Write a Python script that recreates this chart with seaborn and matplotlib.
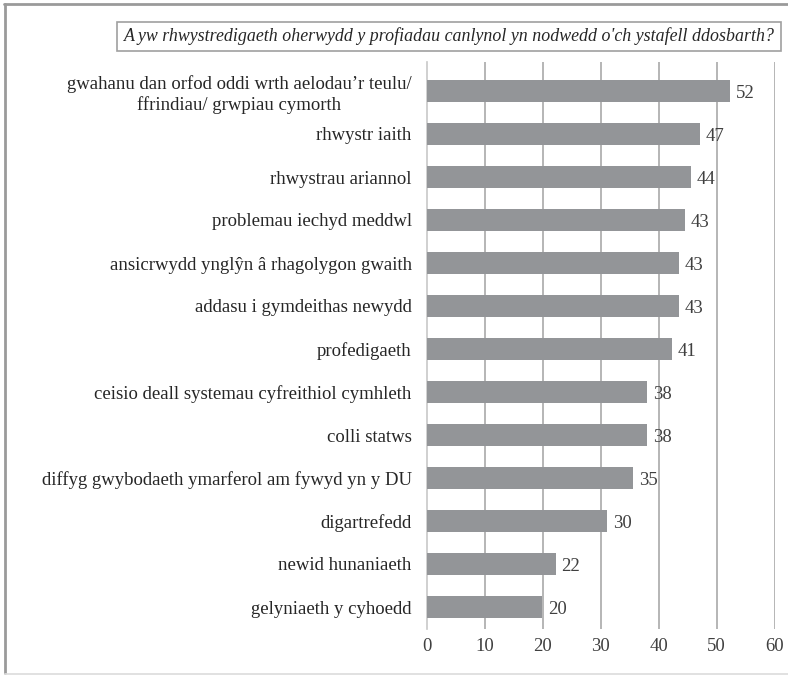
import matplotlib
matplotlib.use("Agg")
import matplotlib.pyplot as plt
import seaborn as sns
import pandas as pd
from matplotlib.lines import Line2D
from matplotlib.patches import Rectangle

categories = [
    "gwahanu dan orfod oddi wrth aelodau’r teulu/\nffrindiau/ grwpiau cymorth",
    "rhwystr iaith",
    "rhwystrau ariannol",
    "problemau iechyd meddwl",
    "ansicrwydd ynglŷn â rhagolygon gwaith",
    "addasu i gymdeithas newydd",
    "profedigaeth",
    "ceisio deall systemau cyfreithiol cymhleth",
    "colli statws",
    "diffyg gwybodaeth ymarferol am fywyd yn y DU",
    "digartrefedd",
    "newid hunaniaeth",
    "gelyniaeth y cyhoedd",
]
bar_values = [52.3, 47.1, 45.6, 44.5, 43.5, 43.5, 42.3, 38.0, 38.0, 35.6, 31.1, 22.2, 19.9]
value_labels = ["52", "47", "44", "43", "43", "43", "41", "38", "38", "35", "30", "22", "20"]
x_ticks = [0, 10, 20, 30, 40, 50, 60]
title = "A yw rhwystredigaeth oherwydd y profiadau canlynol yn nodwedd o'ch ystafell ddosbarth?"

sns.set_theme(style="white")
plt.rcParams["font.family"] = ["Liberation Serif", "DejaVu Serif"]

W, H = 788, 675
fig = plt.figure(figsize=(W / 100, H / 100), dpi=100)

def fx(px):
    return px / W

def fy(py):
    return 1 - py / H

ax = fig.add_axes([fx(427), fy(628.5), fx(774.7) - fx(427), fy(62) - fy(628.5)])

df = pd.DataFrame({"cat": categories, "val": bar_values})
sns.barplot(data=df, y="cat", x="val", color="#939598", saturation=1, width=0.51,
            orient="h", ax=ax, zorder=3, linewidth=0)

ax.set_xlim(0, 60)
ax.set_ylim(12.5, -0.5 - 7.5 / 43)
ax.set_xticks(x_ticks)
ax.set_xticklabels([str(t) for t in x_ticks], fontsize=13.5, color="#404040")
ax.tick_params(axis="y", labelsize=13.5, labelcolor="#262626", pad=11, length=0)
ax.tick_params(axis="x", pad=7, length=0)
for lbl in ax.get_yticklabels():
    lbl.set_multialignment("center")
    lbl.set_linespacing(1.25)
ax.set_xlabel("")
ax.set_ylabel("")
for s in ["top", "right", "bottom"]:
    ax.spines[s].set_visible(False)
ax.spines["left"].set_color("#c8c8c8")
ax.spines["left"].set_linewidth(1.2)
ax.grid(False)
for t in x_ticks[1:]:
    ax.axvline(t, color="#b0b0b0", lw=1.3, zorder=1)

for i, (v, lab) in enumerate(zip(bar_values, value_labels)):
    ax.annotate(lab, xy=(v, i), xytext=(4, -1.5), textcoords="offset points",
                va="center", ha="left", fontsize=13.5, color="#404040", zorder=4)

# title box
fig.add_artist(Rectangle((fx(117), fy(51)), fx(781) - fx(117), fy(22) - fy(51),
                         transform=fig.transFigure, fill=False,
                         edgecolor="#a0a0a0", lw=1.2))
fig.text(fx(449), fy(36.5), title, ha="center", va="center", fontsize=12.9,
         style="italic", color="#262626")

# outer frame
fig.add_artist(Line2D([fx(5), fx(5)], [fy(3.5), fy(673)], transform=fig.transFigure,
                      color="#9a9a9a", lw=2))
fig.add_artist(Line2D([fx(4), fx(788)], [fy(4), fy(4)], transform=fig.transFigure,
                      color="#9a9a9a", lw=2))
fig.add_artist(Line2D([fx(5), fx(788)], [fy(673.5), fy(673.5)], transform=fig.transFigure,
                      color="#dcdcdc", lw=1.2))

fig.savefig("out.png", dpi=100)
